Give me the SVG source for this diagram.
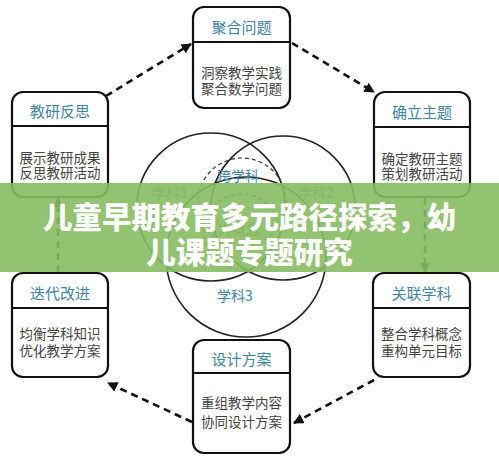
<svg xmlns="http://www.w3.org/2000/svg" width="499" height="464" viewBox="0 0 499 464">
<defs>
<marker id="ah" viewBox="0 0 10 10" refX="9" refY="5" markerWidth="4" markerHeight="4" orient="auto" markerUnits="strokeWidth">
<path d="M0,0 L10,5 L0,10 z" fill="#111"/>
</marker>
<style>
.box{fill:#fff;stroke:#111;stroke-width:2.2}
.div{stroke:#111;stroke-width:2}
.t{font-family:"Noto Sans CJK SC","Noto Sans",sans-serif;font-size:15px;fill:#3d86a6;text-anchor:middle;dominant-baseline:central}
.b{font-family:"Noto Sans CJK SC","Noto Sans",sans-serif;font-size:13.5px;fill:#444;text-anchor:middle;dominant-baseline:central}
.c{stroke:#111;stroke-width:2.6;stroke-dasharray:7 5;fill:none;marker-end:url(#ah)}
.v{fill:none;stroke:#222;stroke-width:1.6}
.vd{fill:none;stroke:#333;stroke-width:1.2;stroke-dasharray:4 3}
.vl{font-family:"Noto Sans CJK SC","Noto Sans",sans-serif;font-size:14px;fill:#3d86a6;text-anchor:middle;dominant-baseline:central}
.ban{font-family:"Noto Sans CJK SC",sans-serif;font-size:29.5px;font-weight:900;fill:#fff;text-anchor:middle;dominant-baseline:central}
</style>
</defs>
<rect width="499" height="464" fill="#fff"/>

<g id="venn">
<circle class="v" cx="211" cy="207" r="74"/>
<circle class="v" cx="283" cy="208" r="72"/>
<circle class="v" cx="246" cy="257" r="80"/>
<circle class="vd" cx="242" cy="202" r="44"/>
<circle class="vd" cx="242" cy="232" r="38"/>
<text class="vl" x="238" y="175">跨学科</text>
<text class="vl" x="170" y="192">学科1</text>
<text class="vl" x="316" y="192">学科2</text>
<text class="vl" x="235" y="295">学科3</text>
<text class="vl" x="239" y="228" style="fill:#555">大概念</text>
</g>

<g id="connectors">
<path class="c" d="M106,96 L191,44"/>
<path class="c" d="M292,43 L374,92"/>
<path class="c" d="M425,198 L425,272"/>
<path class="c" d="M374,380 L294,423"/>
<path class="c" d="M192,422 L108,383"/>
<path class="c" d="M58,272 L58,198"/>
</g>

<g id="n-top">
<rect class="box" x="193" y="7" width="97" height="101" rx="11"/>
<line class="div" x1="193" y1="42" x2="290" y2="42"/>
<text class="t" x="241.5" y="26">聚合问题</text>
<text class="b" x="241.5" y="72">洞察教学实践</text>
<text class="b" x="241.5" y="88">聚合数学问题</text>
</g>

<g id="n-lt">
<rect class="box" x="12" y="92" width="96" height="105" rx="11"/>
<line class="div" x1="12" y1="126" x2="108" y2="126"/>
<text class="t" x="60" y="110">教研反思</text>
<text class="b" x="60" y="157">展示教研成果</text>
<text class="b" x="60" y="172">反思教研活动</text>
</g>

<g id="n-rt">
<rect class="box" x="374" y="92" width="96" height="105" rx="11"/>
<line class="div" x1="374" y1="127" x2="470" y2="127"/>
<text class="t" x="422" y="111">确立主题</text>
<text class="b" x="422" y="158">确定教研主题</text>
<text class="b" x="422" y="173">策划教研活动</text>
</g>

<g id="n-lb">
<rect class="box" x="12" y="273" width="96" height="104" rx="11"/>
<line class="div" x1="12" y1="308" x2="108" y2="308"/>
<text class="t" x="60" y="292">迭代改进</text>
<text class="b" x="60" y="333">均衡学科知识</text>
<text class="b" x="60" y="350">优化教学方案</text>
</g>

<g id="n-rb">
<rect class="box" x="373" y="273" width="97" height="104" rx="11"/>
<line class="div" x1="373" y1="308" x2="470" y2="308"/>
<text class="t" x="421.5" y="292">关联学科</text>
<text class="b" x="421.5" y="333">整合学科概念</text>
<text class="b" x="421.5" y="350">重构单元目标</text>
</g>

<g id="n-bot">
<rect class="box" x="193" y="340" width="97" height="113" rx="11"/>
<line class="div" x1="193" y1="373" x2="290" y2="373"/>
<text class="t" x="241.5" y="358">设计方案</text>
<text class="b" x="241.5" y="402">重组教学内容</text>
<text class="b" x="241.5" y="421">协同设计方案</text>
</g>

<g id="banner">
<rect x="0" y="183" width="499" height="89" fill="#86bd60" fill-opacity="0.9"/>
<text class="ban" x="249.5" y="215">儿童早期教育多元路径探索，幼</text>
<text class="ban" x="249.5" y="250">儿课题专题研究</text>
</g>
</svg>
